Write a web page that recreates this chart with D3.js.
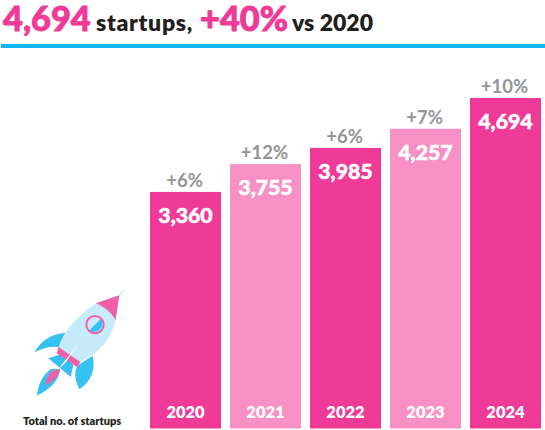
<!DOCTYPE html>
<html><head><meta charset="utf-8">
<script src="https://cdn.jsdelivr.net/npm/d3@7"></script>
<style>html,body{margin:0;padding:0;background:#fff}svg{display:block}text{font-family:Lato,sans-serif}</style>
</head><body><div id="chart"></div>
<script>
const years=["2020","2021","2022","2023","2024"];
const values=[3360,3755,3985,4257,4694];
const growth=["+6%","+12%","+6%","+7%","+10%"];
const barColors=["#ef3a97","#f791c5","#ef3a97","#f791c5","#ef3a97"];
const width=545,height=430;
const svg=d3.select("#chart").append("svg").attr("width",width).attr("height",height);
const x=d3.scaleBand().domain(years).range([146,545]).paddingInner(0.112).paddingOuter(0.05);
const y=d3.scaleLinear().domain([0,4694]).range([428.5,98]);
const fmt=d3.format(",");

// title
const titleParts=["4,694","startups,","+40%","vs 2020"];
const titleX=[3,96,200,292];
const titleBig=[true,false,true,false];
const titleSpacing=[0,0.7,0,0];
svg.selectAll("text.title").data(titleParts).join("text").attr("class","title")
  .attr("x",(d,i)=>titleX[i]).attr("y",31)
  .attr("fill",(d,i)=>titleBig[i]?"#ef3a97":"#231f20")
  .attr("stroke",(d,i)=>titleBig[i]?"#ef3a97":"none")
  .attr("stroke-width",0.9)
  .attr("font-size",(d,i)=>titleBig[i]?34.3:23)
  .attr("letter-spacing",(d,i)=>titleSpacing[i])
  .attr("font-weight",(d,i)=>titleBig[i]?900:800)
  .text(d=>d);
svg.append("rect").attr("x",1).attr("y",44).attr("width",544).attr("height",4).attr("fill","#12b5f5");

// bars
const g=svg.selectAll("g.bar").data(years).join("g").attr("class","bar");
g.append("rect").attr("x",d=>x(d)).attr("width",x.bandwidth())
  .attr("y",(d,i)=>y(values[i])).attr("height",(d,i)=>y(0)-y(values[i])).attr("fill",(d,i)=>barColors[i]);
g.append("text").attr("text-anchor","middle").attr("x",d=>x(d)+x.bandwidth()/2-1)
  .attr("y",(d,i)=>y(values[i])-5).attr("fill","#939598").attr("font-size",18.5).attr("font-weight",700).text((d,i)=>growth[i]);
g.append("text").attr("text-anchor","middle").attr("x",d=>x(d)+x.bandwidth()/2)
  .attr("y",(d,i)=>y(values[i])+31).attr("fill","#fff").attr("stroke","#fff").attr("stroke-width",0.5)
  .attr("font-size",21.3).attr("font-weight",900).text((d,i)=>fmt(values[i]));
g.append("text").attr("text-anchor","middle").attr("x",d=>x(d)+x.bandwidth()/2)
  .attr("y",418).attr("fill","#fff").attr("font-size",16.5).attr("font-weight",800).text(d=>d);

svg.append("text").attr("x",23).attr("y",425).attr("fill","#231f20").attr("font-size",11).attr("font-weight",800).text("Total no. of startups");

// rocket illustration
const r=svg.append("g").attr("transform","translate(0,270) scale(0.3333)");
const blue="#35c1f1",light="#c6ecfb",pink="#f15fa8";
r.append("path").attr("fill",blue).attr("d","M103,247Q135,192 196,189L178,232Q145,225 103,247Z");
r.append("path").attr("fill",blue).attr("d","M238,358Q215,310 235,285L262,268L278,257Q292,320 238,358Z");
r.append("path").attr("fill",blue).attr("d","M145,265L192,250L220,285L212,321Z");
r.append("path").attr("fill",blue).attr("d","M110,377Q118,322 152,297L181,296Q176,345 110,377Z");
r.append("path").attr("fill",pink).attr("d","M136,346Q140,315 160,300L180,298Q176,328 136,346Z");
r.append("path").attr("fill",light).attr("d","M288,100Q195,165 176,232L238,278Q330,235 347,148L358,76Z");
r.append("path").attr("fill",light).attr("d","M354,78L380,49L358,84Z");
r.append("path").attr("fill",pink).attr("d","M288,100L358,76L347,149Q325,115 288,100Z");
r.append("path").attr("fill",pink).attr("d","M176,231L241,276L232,292L170,250Z");
r.append("circle").attr("cx",285).attr("cy",164).attr("r",26).attr("fill",light);
r.append("path").attr("fill",blue).attr("d","M303,146A26,26 0 0 1 267,182Z");
r.append("circle").attr("cx",285).attr("cy",164).attr("r",26).attr("fill","none").attr("stroke",pink).attr("stroke-width",6);
r.append("path").attr("fill","#fff").attr("d","M172,301L242,214L195,280Z");
</script></body></html>
